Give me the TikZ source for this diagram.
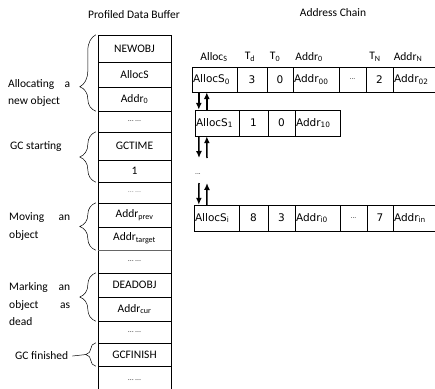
\documentclass[tikz,border=0pt]{standalone}
\usepackage{fontspec}
\setmainfont{Carlito}
\newfontfamily\cellfont{DejaVu Sans}
\usetikzlibrary{arrows.meta,decorations.pathreplacing}

\begin{document}
\begin{tikzpicture}[x=1pt, y=-1pt,
  buf/.style={draw, minimum width=73pt, inner sep=0pt, font=\fontsize{11.5}{13}\selectfont},
  gapbuf/.style={buf, font=\fontsize{8}{9}\selectfont, text=black!75},
  lbl/.style={inner sep=0pt, font=\fontsize{11.5}{17.5}\selectfont},
  curly/.style={decorate, decoration={brace, amplitude=16pt}, line width=0.5pt},
  cellL/.style={draw, inner xsep=1pt, inner ysep=0pt, align=left, font=\cellfont\fontsize{10.5}{12}\selectfont},
  cellC/.style={draw, inner sep=0pt, font=\cellfont\fontsize{10.5}{12}\selectfont},
  head/.style={inner sep=0pt, font=\fontsize{11.5}{13}\selectfont},
  link/.style={-{Latex[length=7pt,width=6pt]}, line width=1.5pt}]
\useasboundingbox (0,0) rectangle (435,388);
% titles
\node[lbl] (buftitle) at (134,15) {Profiled Data Buffer};
\node[lbl] (chaintitle) at (333,13) {Address Chain};
% profiled data buffer
\node[buf, minimum height=27pt] (b1) at (134.5,48.5) {NEWOBJ};
\node[buf, minimum height=25pt] (b2) at (134.5,74.5) {AllocS};
\node[buf, minimum height=24pt] (b3) at (134.5,99) {Addr\textsubscript{0}};
\node[gapbuf, minimum height=21pt] (b4) at (134.5,121.5) {\ldots\ \ldots};
\node[buf, minimum height=28pt] (b5) at (134.5,146) {GCTIME};
\node[buf, minimum height=22pt] (b6) at (134.5,171) {1};
\node[gapbuf, minimum height=21pt, text=black!40] (b7) at (134.5,192.5) {\ldots\ \ldots};
\node[buf, minimum height=24pt] (b8) at (134.5,215) {Addr\textsubscript{prev}};
\node[buf, minimum height=23pt] (b9) at (134.5,238.5) {Addr\textsubscript{target}};
\node[gapbuf, minimum height=23pt] (b10) at (134.5,261.5) {\ldots\ \ldots};
\node[buf, minimum height=24pt] (b11) at (134.5,285) {DEADOBJ};
\node[buf, minimum height=24pt] (b12) at (134.5,309) {Addr\textsubscript{cur}};
\node[gapbuf, minimum height=22pt] (b13) at (134.5,332) {\ldots\ \ldots};
\node[buf, minimum height=23pt] (b14) at (134.5,354.5) {GCFINISH};
\node[gapbuf, minimum height=28pt] (b15) at (134.5,380) {\ldots\ \ldots};
\draw[black!60, line width=1.2pt] (b9.south west) -- (b9.south east);
% braces and event labels
\draw[curly, decoration={aspect=0.32}] ([xshift=-2pt]b3.south west) -- ([xshift=-2pt]b1.north west);
\node[lbl, text width=62pt, align=justify, anchor=west] (alloc) at (8,93) {Allocating a\linebreak new object};
\draw[curly] ([xshift=-2pt]b6.south west) -- ([xshift=-2pt]b5.north west);
\node[lbl, anchor=west] (gcstart) at (10,147) {GC starting};
\draw[curly] ([xshift=-2pt]b9.south west) -- ([xshift=-2pt]b8.north west);
\node[lbl, text width=61pt, align=justify, anchor=west] (moving) at (9,226.5) {Moving an\linebreak object};
\draw[curly] ([xshift=-2pt]b12.south west) -- ([xshift=-2pt]b11.north west);
\node[lbl, text width=61pt, align=justify, anchor=west] (marking) at (9,304.5) {Marking an\linebreak object as\linebreak dead};
\draw[curly, decoration={amplitude=10pt}] ([xshift=-2pt]b14.south west) -- ([xshift=-2pt]b14.north west);
\coordinate (fintip) at (86,354.5);
\node[lbl, anchor=west] (gcfinish) at (15,356) {GC finished};
\draw[line width=0.5pt] ([xshift=4pt]gcfinish.east) -- (fintip);
% address chain headers
\node[head] (hs) at (214,57) {Alloc\textsubscript{S}};
\node[head] (hd) at (250,57) {T\textsubscript{d}};
\node[head] (h0) at (275,57) {T\textsubscript{0}};
\node[head] (ha0) at (309,57) {Addr\textsubscript{0}};
\node[head] (hn) at (375,57) {T\textsubscript{N}};
\node[head] (han) at (408,57) {Addr\textsubscript{N}};
% row 0
\node[cellL, text width=43pt, minimum height=25pt] (r0a) at (214.5,79.5) {AllocS\textsubscript{0}};
\node[cellC, minimum width=30pt, minimum height=25pt] (r0b) at (252,79.5) {3};
\node[cellC, minimum width=26pt, minimum height=25pt] (r0c) at (280,79.5) {0};
\node[cellL, text width=44pt, minimum height=25pt] (r0d) at (316,79.5) {Addr\textsubscript{00}};
\node[cellC, minimum width=27pt, minimum height=25pt] (r0e) at (352.5,79.5) {\fontsize{6}{7}\selectfont...};
\node[cellC, minimum width=27pt, minimum height=25pt] (r0f) at (379.5,79.5) {2};
\node[cellL, text width=50pt, minimum height=25pt] (r0g) at (419,79.5) {Addr\textsubscript{02}};
% row 1
\node[cellL, text width=42pt, minimum height=26pt] (r1a) at (217,123) {AllocS\textsubscript{1}};
\node[cellC, minimum width=29pt, minimum height=26pt] (r1b) at (253.5,123) {1};
\node[cellC, minimum width=27pt, minimum height=26pt] (r1c) at (281.5,123) {0};
\node[cellL, text width=43pt, minimum height=26pt] (r1d) at (317.5,123) {Addr\textsubscript{10}};
% gap
\node[cellC, draw=none, font=\cellfont\fontsize{6}{7}\selectfont] (gap) at (198,174) {...};
\coordinate (gapin) at (199,158);
\coordinate (gapout) at (207,158);
\coordinate (gapdown) at (199,183);
\coordinate (gapup) at (207,183);
% row i
\node[cellL, text width=43pt, minimum height=26pt] (ria) at (216.5,218) {AllocS\textsubscript{i}};
\node[cellC, minimum width=29pt, minimum height=26pt] (rib) at (253.5,218) {8};
\node[cellC, minimum width=27pt, minimum height=26pt] (ric) at (281.5,218) {3};
\node[cellL, text width=43pt, minimum height=26pt] (rid) at (317.5,218) {Addr\textsubscript{i0}};
\node[cellC, minimum width=27pt, minimum height=26pt] (rie) at (353.5,218) {\fontsize{6}{7}\selectfont...};
\node[cellC, minimum width=26pt, minimum height=26pt] (rif) at (380,218) {7};
\node[cellL, text width=50pt, minimum height=26pt] (rig) at (419,218) {Addr\textsubscript{in}};
% chain links
\draw[link] ([xshift=7pt]r0a.south west) -- ([xshift=4pt]r1a.north west);
\draw[link] ([xshift=12pt]r1a.north west) -- ([xshift=15pt]r0a.south west);
\draw[link] ([xshift=4pt]r1a.south west) -- (gapin);
\draw[link] (gapout) -- ([xshift=12pt]r1a.south west);
\draw[link] (gapdown) -- ([xshift=5pt]ria.north west);
\draw[link] ([xshift=13pt]ria.north west) -- (gapup);
\end{tikzpicture}
\end{document}
